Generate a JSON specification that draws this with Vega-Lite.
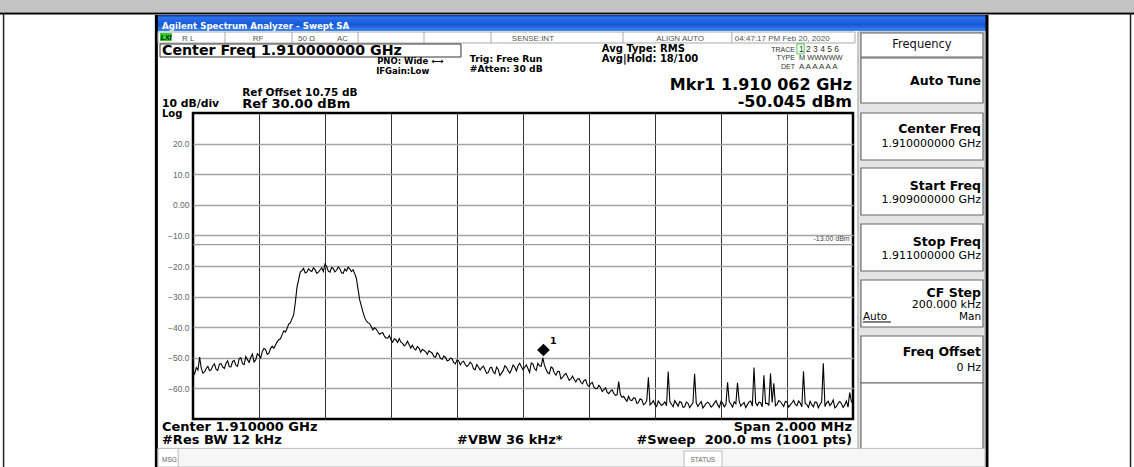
{
"$schema": "https://vega.github.io/schema/vega-lite/v6.json",
"width": 660, "height": 306,
"autosize": {"type": "none"},
"padding": {"left": 193, "top": 113, "right": 281, "bottom": 48},
"background": "white",
"config": {
  "view": {"stroke": "black", "strokeWidth": 2.5},
  "text": {"font": "DejaVu Sans"},
  "axisX": {"grid": true, "gridColor": "#333", "gridWidth": 1, "labels": false, "ticks": false, "domain": false, "title": null, "tickCount": 10},
  "axisY": {"grid": true, "gridColor": "#a3a3a3", "gridWidth": 1.5, "ticks": false, "domain": false, "labelFontSize": 8.5, "labelColor": "#666", "labelPadding": 4, "labelFont": "Liberation Sans", "labelOverlap": false, "title": null, "tickCount": 10}
},
"data": {"values": [
{"f":-1000,"dbm":-54.5},{"f":-990,"dbm":-53.2},{"f":-980,"dbm":-49.8},{"f":-970,"dbm":-55.0},{"f":-960,"dbm":-53.5},{"f":-950,"dbm":-54.2},{"f":-940,"dbm":-52.6},{"f":-930,"dbm":-53.8},{"f":-920,"dbm":-52.1},{"f":-910,"dbm":-53.0},
{"f":-900,"dbm":-51.8},{"f":-890,"dbm":-52.9},{"f":-880,"dbm":-51.2},{"f":-870,"dbm":-52.4},{"f":-860,"dbm":-50.3},{"f":-850,"dbm":-51.9},{"f":-840,"dbm":-49.6},{"f":-830,"dbm":-51.5},{"f":-820,"dbm":-48.8},{"f":-810,"dbm":-50.7},
{"f":-800,"dbm":-49.2},{"f":-790,"dbm":-48.0},{"f":-780,"dbm":-47.3},{"f":-770,"dbm":-48.5},{"f":-760,"dbm":-46.2},{"f":-750,"dbm":-45.8},{"f":-740,"dbm":-44.1},{"f":-730,"dbm":-42.5},{"f":-720,"dbm":-41.6},{"f":-710,"dbm":-39.0},
{"f":-700,"dbm":-37.2},{"f":-690,"dbm":-32.0},{"f":-680,"dbm":-24.5},{"f":-670,"dbm":-21.5},{"f":-660,"dbm":-22.3},{"f":-650,"dbm":-20.9},{"f":-640,"dbm":-21.8},{"f":-630,"dbm":-21.2},{"f":-620,"dbm":-22.0},{"f":-610,"dbm":-20.6},
{"f":-600,"dbm":-19.4},{"f":-590,"dbm":-21.7},{"f":-580,"dbm":-20.5},{"f":-570,"dbm":-21.9},{"f":-560,"dbm":-20.3},{"f":-550,"dbm":-22.2},{"f":-540,"dbm":-21.0},{"f":-530,"dbm":-20.4},{"f":-520,"dbm":-21.8},{"f":-510,"dbm":-22.5},
{"f":-500,"dbm":-27.5},{"f":-490,"dbm":-33.0},{"f":-480,"dbm":-36.8},{"f":-470,"dbm":-38.5},{"f":-460,"dbm":-39.8},{"f":-450,"dbm":-40.2},{"f":-440,"dbm":-41.5},{"f":-430,"dbm":-42.0},{"f":-420,"dbm":-42.9},{"f":-410,"dbm":-43.6},
{"f":-400,"dbm":-44.2},{"f":-390,"dbm":-43.8},{"f":-380,"dbm":-45.0},{"f":-370,"dbm":-44.9},{"f":-360,"dbm":-46.1},{"f":-350,"dbm":-44.6},{"f":-340,"dbm":-46.8},{"f":-330,"dbm":-47.0},{"f":-320,"dbm":-46.3},{"f":-310,"dbm":-48.2},
{"f":-300,"dbm":-47.6},{"f":-290,"dbm":-48.9},{"f":-280,"dbm":-48.1},{"f":-270,"dbm":-49.6},{"f":-260,"dbm":-48.3},{"f":-250,"dbm":-50.2},{"f":-240,"dbm":-49.4},{"f":-230,"dbm":-51.0},{"f":-220,"dbm":-50.1},{"f":-210,"dbm":-51.5},
{"f":-200,"dbm":-50.7},{"f":-190,"dbm":-52.3},{"f":-180,"dbm":-51.1},{"f":-170,"dbm":-52.8},{"f":-160,"dbm":-51.4},{"f":-150,"dbm":-53.6},{"f":-140,"dbm":-52.2},{"f":-130,"dbm":-54.0},{"f":-120,"dbm":-52.7},{"f":-110,"dbm":-55.1},
{"f":-100,"dbm":-53.3},{"f":-90,"dbm":-54.6},{"f":-80,"dbm":-53.0},{"f":-70,"dbm":-55.8},{"f":-60,"dbm":-54.2},{"f":-50,"dbm":-53.1},{"f":-40,"dbm":-55.0},{"f":-30,"dbm":-52.4},{"f":-20,"dbm":-54.3},{"f":-10,"dbm":-51.8},
{"f":0,"dbm":-53.9},{"f":10,"dbm":-52.3},{"f":20,"dbm":-54.8},{"f":30,"dbm":-52.0},{"f":40,"dbm":-54.1},{"f":50,"dbm":-52.6},{"f":60,"dbm":-50.0},{"f":70,"dbm":-53.8},{"f":80,"dbm":-55.2},{"f":90,"dbm":-53.4},
{"f":100,"dbm":-55.7},{"f":110,"dbm":-54.5},{"f":120,"dbm":-56.3},{"f":130,"dbm":-55.1},{"f":140,"dbm":-57.4},{"f":150,"dbm":-56.0},{"f":160,"dbm":-57.9},{"f":170,"dbm":-56.8},{"f":180,"dbm":-58.5},{"f":190,"dbm":-57.2},
{"f":200,"dbm":-59.3},{"f":210,"dbm":-58.0},{"f":220,"dbm":-60.1},{"f":230,"dbm":-59.0},{"f":240,"dbm":-61.0},{"f":250,"dbm":-59.8},{"f":260,"dbm":-61.7},{"f":270,"dbm":-60.5},{"f":280,"dbm":-62.3},{"f":290,"dbm":-57.8},
{"f":300,"dbm":-62.9},{"f":310,"dbm":-63.5},{"f":320,"dbm":-62.6},{"f":330,"dbm":-64.0},{"f":340,"dbm":-63.2},{"f":350,"dbm":-64.6},{"f":360,"dbm":-63.7},{"f":370,"dbm":-65.0},{"f":380,"dbm":-56.4},{"f":390,"dbm":-64.8},
{"f":400,"dbm":-65.3},{"f":410,"dbm":-64.1},{"f":420,"dbm":-65.6},{"f":430,"dbm":-64.4},{"f":440,"dbm":-54.5},{"f":450,"dbm":-65.2},{"f":460,"dbm":-64.0},{"f":470,"dbm":-65.8},{"f":480,"dbm":-64.6},{"f":490,"dbm":-66.0},
{"f":500,"dbm":-64.9},{"f":510,"dbm":-65.5},{"f":520,"dbm":-55.2},{"f":530,"dbm":-65.9},{"f":540,"dbm":-64.3},{"f":550,"dbm":-65.7},{"f":560,"dbm":-64.5},{"f":570,"dbm":-66.1},{"f":580,"dbm":-64.8},{"f":590,"dbm":-65.4},
{"f":600,"dbm":-64.2},{"f":610,"dbm":-66.0},{"f":620,"dbm":-58.0},{"f":630,"dbm":-65.1},{"f":640,"dbm":-64.4},{"f":650,"dbm":-58.2},{"f":660,"dbm":-65.8},{"f":670,"dbm":-64.6},{"f":680,"dbm":-65.3},{"f":690,"dbm":-64.1},
{"f":700,"dbm":-53.2},{"f":710,"dbm":-65.6},{"f":720,"dbm":-64.7},{"f":730,"dbm":-55.7},{"f":740,"dbm":-64.9},{"f":750,"dbm":-55.1},{"f":760,"dbm":-58.3},{"f":770,"dbm":-65.2},{"f":780,"dbm":-64.3},{"f":790,"dbm":-65.9},
{"f":800,"dbm":-64.5},{"f":810,"dbm":-65.4},{"f":820,"dbm":-63.9},{"f":830,"dbm":-65.7},{"f":840,"dbm":-64.8},{"f":850,"dbm":-54.4},{"f":860,"dbm":-65.3},{"f":870,"dbm":-64.2},{"f":880,"dbm":-66.0},{"f":890,"dbm":-64.6},
{"f":900,"dbm":-65.2},{"f":910,"dbm":-51.8},{"f":920,"dbm":-64.7},{"f":930,"dbm":-65.6},{"f":940,"dbm":-63.8},{"f":950,"dbm":-65.9},{"f":960,"dbm":-64.3},{"f":970,"dbm":-66.2},{"f":980,"dbm":-64.1},{"f":990,"dbm":-61.4},
{"f":1000,"dbm":-65.0},
{"f":-995,"dbm":-55.3},{"f":-985,"dbm":-54.0},{"f":-975,"dbm":-53.4},{"f":-965,"dbm":-54.6},{"f":-955,"dbm":-52.8},{"f":-945,"dbm":-53.9},{"f":-935,"dbm":-52.0},{"f":-925,"dbm":-54.1},{"f":-915,"dbm":-51.9},{"f":-905,"dbm":-53.5},
{"f":-895,"dbm":-51.0},{"f":-885,"dbm":-53.0},{"f":-875,"dbm":-50.9},{"f":-865,"dbm":-52.8},{"f":-855,"dbm":-50.0},{"f":-845,"dbm":-52.2},{"f":-835,"dbm":-50.6},{"f":-825,"dbm":-49.9},{"f":-815,"dbm":-51.4},{"f":-805,"dbm":-48.7},
{"f":-795,"dbm":-50.1},{"f":-785,"dbm":-46.9},{"f":-775,"dbm":-48.9},{"f":-765,"dbm":-47.0},{"f":-755,"dbm":-46.9},{"f":-745,"dbm":-44.8},{"f":-735,"dbm":-43.8},{"f":-725,"dbm":-41.2},{"f":-715,"dbm":-40.4},{"f":-705,"dbm":-38.6},
{"f":-695,"dbm":-36.0},{"f":-685,"dbm":-27.0},{"f":-675,"dbm":-22.0},{"f":-665,"dbm":-20.8},{"f":-655,"dbm":-22.0},{"f":-645,"dbm":-21.5},{"f":-635,"dbm":-20.6},{"f":-625,"dbm":-22.4},{"f":-615,"dbm":-21.3},{"f":-605,"dbm":-21.8},
{"f":-595,"dbm":-20.2},{"f":-585,"dbm":-22.0},{"f":-575,"dbm":-20.8},{"f":-565,"dbm":-21.4},{"f":-555,"dbm":-20.9},{"f":-545,"dbm":-22.4},{"f":-535,"dbm":-21.6},{"f":-525,"dbm":-20.9},{"f":-515,"dbm":-21.2},{"f":-505,"dbm":-24.0},
{"f":-495,"dbm":-31.0},{"f":-485,"dbm":-35.0},{"f":-475,"dbm":-37.9},{"f":-465,"dbm":-38.8},{"f":-455,"dbm":-40.9},{"f":-445,"dbm":-40.6},{"f":-435,"dbm":-42.3},{"f":-425,"dbm":-41.8},{"f":-415,"dbm":-43.5},{"f":-405,"dbm":-42.7},
{"f":-395,"dbm":-44.9},{"f":-385,"dbm":-44.1},{"f":-375,"dbm":-43.7},{"f":-365,"dbm":-45.3},{"f":-355,"dbm":-45.6},{"f":-345,"dbm":-45.7},{"f":-335,"dbm":-45.9},{"f":-325,"dbm":-47.4},{"f":-315,"dbm":-46.9},{"f":-305,"dbm":-47.2},
{"f":-295,"dbm":-48.0},{"f":-285,"dbm":-47.7},{"f":-275,"dbm":-48.5},{"f":-265,"dbm":-49.8},{"f":-255,"dbm":-48.9},{"f":-245,"dbm":-50.5},{"f":-235,"dbm":-49.8},{"f":-225,"dbm":-50.8},{"f":-215,"dbm":-50.3},{"f":-205,"dbm":-52.0},
{"f":-195,"dbm":-51.0},{"f":-185,"dbm":-51.4},{"f":-175,"dbm":-52.2},{"f":-165,"dbm":-52.3},{"f":-155,"dbm":-52.0},{"f":-145,"dbm":-53.9},{"f":-135,"dbm":-53.0},{"f":-125,"dbm":-53.2},{"f":-115,"dbm":-53.9},{"f":-105,"dbm":-54.8},
{"f":-95,"dbm":-53.1},{"f":-85,"dbm":-55.2},{"f":-75,"dbm":-53.8},{"f":-65,"dbm":-55.0},{"f":-55,"dbm":-52.6},{"f":-45,"dbm":-54.2},{"f":-35,"dbm":-53.9},{"f":-25,"dbm":-53.0},{"f":-15,"dbm":-52.6},{"f":-5,"dbm":-52.9},
{"f":5,"dbm":-53.1},{"f":15,"dbm":-53.5},{"f":25,"dbm":-51.7},{"f":35,"dbm":-53.6},{"f":45,"dbm":-51.8},{"f":55,"dbm":-52.8},{"f":65,"dbm":-52.5},{"f":75,"dbm":-54.9},{"f":85,"dbm":-53.0},{"f":95,"dbm":-55.0},
{"f":105,"dbm":-54.4},{"f":115,"dbm":-56.9},{"f":125,"dbm":-55.6},{"f":135,"dbm":-56.2},{"f":145,"dbm":-56.9},{"f":155,"dbm":-57.0},{"f":165,"dbm":-56.9},{"f":175,"dbm":-58.0},{"f":185,"dbm":-57.4},{"f":195,"dbm":-58.9},
{"f":205,"dbm":-58.4},{"f":215,"dbm":-59.6},{"f":225,"dbm":-60.0},{"f":235,"dbm":-59.7},{"f":245,"dbm":-60.4},{"f":255,"dbm":-61.2},{"f":265,"dbm":-60.9},{"f":275,"dbm":-61.6},{"f":285,"dbm":-62.1},{"f":295,"dbm":-62.0},
{"f":305,"dbm":-62.6},{"f":315,"dbm":-64.2},{"f":325,"dbm":-63.8},{"f":335,"dbm":-63.1},{"f":345,"dbm":-64.9},{"f":355,"dbm":-63.4},{"f":365,"dbm":-65.3},{"f":375,"dbm":-64.0},{"f":385,"dbm":-65.4},{"f":395,"dbm":-64.0},
{"f":405,"dbm":-65.9},{"f":415,"dbm":-64.9},{"f":425,"dbm":-65.1},{"f":435,"dbm":-65.7},{"f":445,"dbm":-64.3},{"f":455,"dbm":-66.0},{"f":465,"dbm":-64.9},{"f":475,"dbm":-64.3},{"f":485,"dbm":-66.2},{"f":495,"dbm":-64.5},
{"f":505,"dbm":-66.3},{"f":515,"dbm":-64.7},{"f":525,"dbm":-64.8},{"f":535,"dbm":-65.0},{"f":545,"dbm":-66.4},{"f":555,"dbm":-64.9},{"f":565,"dbm":-65.1},{"f":575,"dbm":-65.6},{"f":585,"dbm":-64.0},{"f":595,"dbm":-66.2},
{"f":605,"dbm":-64.8},{"f":615,"dbm":-65.2},{"f":625,"dbm":-64.4},{"f":635,"dbm":-66.1},{"f":645,"dbm":-65.0},{"f":655,"dbm":-64.2},{"f":665,"dbm":-65.1},{"f":675,"dbm":-66.3},{"f":685,"dbm":-64.4},{"f":695,"dbm":-65.8},
{"f":705,"dbm":-64.7},{"f":715,"dbm":-64.5},{"f":725,"dbm":-66.0},{"f":735,"dbm":-64.9},{"f":745,"dbm":-65.5},{"f":755,"dbm":-64.6},{"f":765,"dbm":-65.7},{"f":775,"dbm":-64.0},{"f":785,"dbm":-65.1},{"f":795,"dbm":-64.2},
{"f":805,"dbm":-66.1},{"f":815,"dbm":-64.7},{"f":825,"dbm":-65.2},{"f":835,"dbm":-64.1},{"f":845,"dbm":-66.0},{"f":855,"dbm":-64.9},{"f":865,"dbm":-66.2},{"f":875,"dbm":-65.3},{"f":885,"dbm":-64.4},{"f":895,"dbm":-66.3},
{"f":905,"dbm":-64.5},{"f":915,"dbm":-65.9},{"f":925,"dbm":-64.2},{"f":935,"dbm":-64.9},{"f":945,"dbm":-66.4},{"f":955,"dbm":-64.8},{"f":965,"dbm":-65.0},{"f":975,"dbm":-65.4},{"f":985,"dbm":-66.1},{"f":995,"dbm":-64.2}
]},
"layer": [
{"mark": {"type": "line", "color": "black", "strokeWidth": 1.1, "clip": false},
 "encoding": {"x": {"field": "f", "type": "quantitative", "scale": {"domain": [-1000, 1000], "nice": false, "zero": false},
                    "axis": {"values": [-800,-600,-400,-200,0,200,400,600,800]}},
              "y": {"field": "dbm", "type": "quantitative", "scale": {"domain": [-70, 30], "nice": false, "zero": false},
                    "axis": {"values": [-60,-50,-40,-30,-20,-10,0,10,20], "labelOverlap": false, "labelExpr": "datum.value == 0 ? '0.00' : format(datum.value, '.1f')"}}}},
{"data": {"values": [{}]}, "mark": {"type": "rect", "fill": "#c3c3c3", "clip": false}, "encoding": {"x": {"datum": -1585}, "x2": {"datum": 1852}, "y": {"datum": 66.93}, "y2": {"datum": 62.9}}},
{"data": {"values": [{}]}, "mark": {"type": "rule", "color": "black", "strokeWidth": 2, "clip": false}, "encoding": {"x": {"datum": -1585}, "x2": {"datum": 1852}, "y": {"datum": 62.55}}},
{"data": {"values": [{}]}, "mark": {"type": "rule", "color": "#222", "strokeWidth": 1.5, "clip": false}, "encoding": {"x": {"datum": -1574}, "y": {"datum": 62.6}, "y2": {"datum": -85.7}}},
{"data": {"values": [{}]}, "mark": {"type": "rule", "color": "#222", "strokeWidth": 1.5, "clip": false}, "encoding": {"x": {"datum": 1841}, "y": {"datum": 62.6}, "y2": {"datum": -85.7}}},
{"data": {"values": [{}]}, "mark": {"type": "rect", "clip": false, "fill": {"gradient": "linear", "x1": 0, "y1": 0, "x2": 0, "y2": 1, "stops": [{"offset": 0, "color": "#0b2f8a"}, {"offset": 0.15, "color": "#2a74ee"}, {"offset": 0.6, "color": "#1657d6"}, {"offset": 1, "color": "#3d86f2"}]}},
 "encoding": {"x": {"datum": -1109}, "x2": {"datum": 1406}, "y": {"datum": 62.03}, "y2": {"datum": 56.8}}},
{"data": {"values": [{}]}, "mark": {"type": "rule", "color": "black", "strokeWidth": 3, "clip": false}, "encoding": {"x": {"datum": -1111}, "y": {"datum": 62.03}, "y2": {"datum": -85.7}}},
{"data": {"values": [{}]}, "mark": {"type": "rule", "color": "black", "strokeWidth": 3, "clip": false}, "encoding": {"x": {"datum": 1406}, "y": {"datum": 62.03}, "y2": {"datum": -85.7}}},
{"data": {"values": [{}]}, "mark": {"type": "rect", "fill": "white", "stroke": "#aaa", "strokeWidth": 1, "clip": false}, "encoding": {"x": {"datum": -1106}, "x2": {"datum": 1006}, "y": {"datum": 56.47}, "y2": {"datum": 52.88}}},
{"data": {"values": [{}]}, "mark": {"type": "rule", "color": "#aaa", "clip": false}, "encoding": {"x": {"datum": -903}, "y": {"datum": 56.47}, "y2": {"datum": 52.88}}},
{"data": {"values": [{}]}, "mark": {"type": "rule", "color": "#aaa", "clip": false}, "encoding": {"x": {"datum": -700}, "y": {"datum": 56.47}, "y2": {"datum": 52.88}}},
{"data": {"values": [{}]}, "mark": {"type": "rule", "color": "#aaa", "clip": false}, "encoding": {"x": {"datum": -500}, "y": {"datum": 56.47}, "y2": {"datum": 52.88}}},
{"data": {"values": [{}]}, "mark": {"type": "rule", "color": "#aaa", "clip": false}, "encoding": {"x": {"datum": -300}, "y": {"datum": 56.47}, "y2": {"datum": 52.88}}},
{"data": {"values": [{}]}, "mark": {"type": "rule", "color": "#aaa", "clip": false}, "encoding": {"x": {"datum": -97}, "y": {"datum": 56.47}, "y2": {"datum": 52.88}}},
{"data": {"values": [{}]}, "mark": {"type": "rule", "color": "#aaa", "clip": false}, "encoding": {"x": {"datum": 303}, "y": {"datum": 56.47}, "y2": {"datum": 52.88}}},
{"data": {"values": [{}]}, "mark": {"type": "rule", "color": "#aaa", "clip": false}, "encoding": {"x": {"datum": 633}, "y": {"datum": 56.47}, "y2": {"datum": 52.88}}},
{"data": {"values": [{}]}, "mark": {"type": "rect", "fill": "#2fcf2f", "clip": false}, "encoding": {"x": {"datum": -1100}, "x2": {"datum": -1064}, "y": {"datum": 56.14}, "y2": {"datum": 53.53}}},
{"data": {"values": [{}]}, "mark": {"type": "rect", "fill": "white", "stroke": "#333", "strokeWidth": 1, "clip": false}, "encoding": {"x": {"datum": -1100}, "x2": {"datum": -188}, "y": {"datum": 52.55}, "y2": {"datum": 48.3}}},
{"data": {"values": [{}]}, "mark": {"type": "rect", "fill": "white", "stroke": "#4c4", "strokeWidth": 1, "clip": false}, "encoding": {"x": {"datum": 830}, "x2": {"datum": 852}, "y": {"datum": 52.6}, "y2": {"datum": 49.3}}},
{"data": {"values": [{}]}, "mark": {"type": "rect", "fill": "#e4e4e4", "stroke": "#999", "strokeWidth": 1, "clip": false}, "encoding": {"x": {"datum": 1015}, "x2": {"datum": 1400}, "y": {"datum": 56.47}, "y2": {"datum": -80.78}}},
{"data": {"values": [{}]}, "mark": {"type": "rect", "fill": "white", "stroke": "#666", "strokeWidth": 1.2, "clip": false}, "encoding": {"x": {"datum": 1024}, "x2": {"datum": 1394}, "y": {"datum": 56.14}, "y2": {"datum": 48.3}}},
{"data": {"values": [{}]}, "mark": {"type": "rect", "fill": "white", "stroke": "#666", "strokeWidth": 1.2, "clip": false}, "encoding": {"x": {"datum": 1024}, "x2": {"datum": 1394}, "y": {"datum": 47.97}, "y2": {"datum": 33.27}}},
{"data": {"values": [{}]}, "mark": {"type": "rect", "fill": "white", "stroke": "#666", "strokeWidth": 1.2, "clip": false}, "encoding": {"x": {"datum": 1024}, "x2": {"datum": 1394}, "y": {"datum": 30}, "y2": {"datum": 14.64}}},
{"data": {"values": [{}]}, "mark": {"type": "rect", "fill": "white", "stroke": "#666", "strokeWidth": 1.2, "clip": false}, "encoding": {"x": {"datum": 1024}, "x2": {"datum": 1394}, "y": {"datum": 12.03}, "y2": {"datum": -3.33}}},
{"data": {"values": [{}]}, "mark": {"type": "rect", "fill": "white", "stroke": "#666", "strokeWidth": 1.2, "clip": false}, "encoding": {"x": {"datum": 1024}, "x2": {"datum": 1394}, "y": {"datum": -6.27}, "y2": {"datum": -21.63}}},
{"data": {"values": [{}]}, "mark": {"type": "rect", "fill": "white", "stroke": "#666", "strokeWidth": 1.2, "clip": false}, "encoding": {"x": {"datum": 1024}, "x2": {"datum": 1394}, "y": {"datum": -24.58}, "y2": {"datum": -39.93}}},
{"data": {"values": [{}]}, "mark": {"type": "rect", "fill": "white", "stroke": "#666", "strokeWidth": 1.2, "clip": false}, "encoding": {"x": {"datum": 1024}, "x2": {"datum": 1394}, "y": {"datum": -42.88}, "y2": {"datum": -58.24}}},
{"data": {"values": [{}]}, "mark": {"type": "rect", "fill": "white", "stroke": "#666", "strokeWidth": 1.2, "clip": false}, "encoding": {"x": {"datum": 1024}, "x2": {"datum": 1394}, "y": {"datum": -58.24}, "y2": {"datum": -80.13}}},
{"data": {"values": [{}]}, "mark": {"type": "rect", "fill": "#f6f6f6", "stroke": "#bbb", "strokeWidth": 1, "clip": false}, "encoding": {"x": {"datum": -1106}, "x2": {"datum": 1400}, "y": {"datum": -79.6}, "y2": {"datum": -85.7}}},
{"data": {"values": [{}]}, "mark": {"type": "rect", "fill": "white", "stroke": "#bbb", "strokeWidth": 1, "clip": false}, "encoding": {"x": {"datum": -1106}, "x2": {"datum": -1045}, "y": {"datum": -79.6}, "y2": {"datum": -85.7}}},
{"data": {"values": [{}]}, "mark": {"type": "rect", "fill": "white", "stroke": "#bbb", "strokeWidth": 1, "clip": false}, "encoding": {"x": {"datum": 488}, "x2": {"datum": 603}, "y": {"datum": -80.46}, "y2": {"datum": -85.7}}},
{"data": {"values": [{}]}, "mark": {"type": "rule", "color": "#9a9a9a", "strokeWidth": 1.2, "clip": false}, "encoding": {"y": {"datum": -13}}},
{"data": {"values": [{}]}, "mark": {"type": "point", "shape": "diamond", "filled": true, "color": "black", "opacity": 1, "size": 160, "clip": false}, "encoding": {"x": {"datum": 62}, "y": {"datum": -47.45}}},
{"data": {"values": [{}]}, "mark": {"type": "text", "text": "-13.00 dBm", "align": "right", "baseline": "alphabetic", "fontSize": 7, "font": "Liberation Sans", "color": "#444"}, "encoding": {"x": {"datum": 990}, "y": {"datum": -11.7}}},
{"data": {"values": [{}]}, "mark": {"type": "text", "text": "1", "align": "left", "baseline": "alphabetic", "fontSize": 9.5, "fontWeight": "bold", "color": "black"}, "encoding": {"x": {"datum": 82}, "y": {"datum": -45.6}}},
{"data": {"values": [{}]}, "mark": {"type": "text", "text": "Agilent Spectrum Analyzer - Swept SA", "align": "left", "baseline": "alphabetic", "fontSize": 8.7, "fontWeight": "bold", "color": "white"}, "encoding": {"x": {"datum": -1094}, "y": {"datum": 57.6}}},
{"data": {"values": [{}]}, "mark": {"type": "text", "text": "LXI", "align": "left", "baseline": "alphabetic", "fontSize": 7, "fontWeight": "bold", "fontStyle": "italic", "font": "Liberation Sans", "color": "#111"}, "encoding": {"x": {"datum": -1098}, "y": {"datum": 53.8}}},
{"data": {"values": [{}]}, "mark": {"type": "text", "text": "R L", "align": "left", "baseline": "alphabetic", "fontSize": 8, "font": "Liberation Sans", "color": "#555"}, "encoding": {"x": {"datum": -1033}, "y": {"datum": 53.6}}},
{"data": {"values": [{}]}, "mark": {"type": "text", "text": "RF", "align": "center", "baseline": "alphabetic", "fontSize": 8, "font": "Liberation Sans", "color": "#555"}, "encoding": {"x": {"datum": -803}, "y": {"datum": 53.6}}},
{"data": {"values": [{}]}, "mark": {"type": "text", "text": "50 Ω", "align": "left", "baseline": "alphabetic", "fontSize": 8, "font": "Liberation Sans", "color": "#555"}, "encoding": {"x": {"datum": -682}, "y": {"datum": 53.6}}},
{"data": {"values": [{}]}, "mark": {"type": "text", "text": "AC", "align": "left", "baseline": "alphabetic", "fontSize": 8, "font": "Liberation Sans", "color": "#555"}, "encoding": {"x": {"datum": -564}, "y": {"datum": 53.6}}},
{"data": {"values": [{}]}, "mark": {"type": "text", "text": "SENSE:INT", "align": "center", "baseline": "alphabetic", "fontSize": 8, "font": "Liberation Sans", "color": "#555"}, "encoding": {"x": {"datum": 30}, "y": {"datum": 53.6}}},
{"data": {"values": [{}]}, "mark": {"type": "text", "text": "ALIGN AUTO", "align": "center", "baseline": "alphabetic", "fontSize": 8, "font": "Liberation Sans", "color": "#555"}, "encoding": {"x": {"datum": 476}, "y": {"datum": 53.6}}},
{"data": {"values": [{}]}, "mark": {"type": "text", "text": "04:47:17 PM Feb 20, 2020", "align": "left", "baseline": "alphabetic", "fontSize": 8, "font": "Liberation Sans", "color": "#555"}, "encoding": {"x": {"datum": 642}, "y": {"datum": 53.6}}},
{"data": {"values": [{}]}, "mark": {"type": "text", "text": "Center Freq 1.910000000 GHz", "align": "left", "baseline": "alphabetic", "fontSize": 14.2, "fontWeight": "bold", "color": "black"}, "encoding": {"x": {"datum": -1094}, "y": {"datum": 49.1}}},
{"data": {"values": [{}]}, "mark": {"type": "text", "text": "PNO: Wide ⟷", "align": "left", "baseline": "alphabetic", "fontSize": 8.5, "fontWeight": "bold", "color": "black"}, "encoding": {"x": {"datum": -442}, "y": {"datum": 45.9}}},
{"data": {"values": [{}]}, "mark": {"type": "text", "text": "IFGain:Low", "align": "left", "baseline": "alphabetic", "fontSize": 8.5, "fontWeight": "bold", "color": "black"}, "encoding": {"x": {"datum": -445}, "y": {"datum": 42.8}}},
{"data": {"values": [{}]}, "mark": {"type": "text", "text": "Trig: Free Run", "align": "left", "baseline": "alphabetic", "fontSize": 9.2, "fontWeight": "bold", "color": "black"}, "encoding": {"x": {"datum": -161}, "y": {"datum": 46.67}}},
{"data": {"values": [{}]}, "mark": {"type": "text", "text": "#Atten: 30 dB", "align": "left", "baseline": "alphabetic", "fontSize": 9.2, "fontWeight": "bold", "color": "black"}, "encoding": {"x": {"datum": -161}, "y": {"datum": 43.4}}},
{"data": {"values": [{}]}, "mark": {"type": "text", "text": "Avg Type: RMS", "align": "left", "baseline": "alphabetic", "fontSize": 10, "fontWeight": "bold", "color": "black"}, "encoding": {"x": {"datum": 239}, "y": {"datum": 49.93}}},
{"data": {"values": [{}]}, "mark": {"type": "text", "text": "Avg|Hold: 18/100", "align": "left", "baseline": "alphabetic", "fontSize": 10, "fontWeight": "bold", "color": "black"}, "encoding": {"x": {"datum": 239}, "y": {"datum": 46.67}}},
{"data": {"values": [{}]}, "mark": {"type": "text", "text": "TRACE", "align": "right", "baseline": "alphabetic", "fontSize": 7, "font": "Liberation Sans", "color": "#333"}, "encoding": {"x": {"datum": 824}, "y": {"datum": 49.93}}},
{"data": {"values": [{}]}, "mark": {"type": "text", "text": "1 2 3 4 5 6", "align": "left", "baseline": "alphabetic", "fontSize": 8.5, "font": "Liberation Sans", "color": "#333"}, "encoding": {"x": {"datum": 836}, "y": {"datum": 49.93}}},
{"data": {"values": [{}]}, "mark": {"type": "text", "text": "TYPE", "align": "right", "baseline": "alphabetic", "fontSize": 7, "font": "Liberation Sans", "color": "#333"}, "encoding": {"x": {"datum": 824}, "y": {"datum": 47.3}}},
{"data": {"values": [{}]}, "mark": {"type": "text", "text": "M WWWWW", "align": "left", "baseline": "alphabetic", "fontSize": 7.5, "font": "Liberation Sans", "color": "#333"}, "encoding": {"x": {"datum": 836}, "y": {"datum": 47.3}}},
{"data": {"values": [{}]}, "mark": {"type": "text", "text": "DET", "align": "right", "baseline": "alphabetic", "fontSize": 7, "font": "Liberation Sans", "color": "#333"}, "encoding": {"x": {"datum": 824}, "y": {"datum": 44.4}}},
{"data": {"values": [{}]}, "mark": {"type": "text", "text": "A A A A A A", "align": "left", "baseline": "alphabetic", "fontSize": 8, "font": "Liberation Sans", "color": "#333"}, "encoding": {"x": {"datum": 836}, "y": {"datum": 44.4}}},
{"data": {"values": [{}]}, "mark": {"type": "text", "text": "Mkr1 1.910 062 GHz", "align": "right", "baseline": "alphabetic", "fontSize": 16, "fontWeight": "bold", "color": "black"}, "encoding": {"x": {"datum": 997}, "y": {"datum": 37.4}}},
{"data": {"values": [{}]}, "mark": {"type": "text", "text": "-50.045 dBm", "align": "right", "baseline": "alphabetic", "fontSize": 16, "fontWeight": "bold", "color": "black"}, "encoding": {"x": {"datum": 997}, "y": {"datum": 31.9}}},
{"data": {"values": [{}]}, "mark": {"type": "text", "text": "Ref Offset 10.75 dB", "align": "left", "baseline": "alphabetic", "fontSize": 10.5, "fontWeight": "bold", "color": "black"}, "encoding": {"x": {"datum": -851}, "y": {"datum": 35.6}}},
{"data": {"values": [{}]}, "mark": {"type": "text", "text": "10 dB/div", "align": "left", "baseline": "alphabetic", "fontSize": 10.8, "fontWeight": "bold", "color": "black"}, "encoding": {"x": {"datum": -1094}, "y": {"datum": 31.8}}},
{"data": {"values": [{}]}, "mark": {"type": "text", "text": "Ref 30.00 dBm", "align": "left", "baseline": "alphabetic", "fontSize": 13.1, "fontWeight": "bold", "color": "black"}, "encoding": {"x": {"datum": -851}, "y": {"datum": 31.63}}},
{"data": {"values": [{}]}, "mark": {"type": "text", "text": "Log", "align": "left", "baseline": "alphabetic", "fontSize": 10, "fontWeight": "bold", "color": "black"}, "encoding": {"x": {"datum": -1094}, "y": {"datum": 28.6}}},
{"data": {"values": [{}]}, "mark": {"type": "text", "text": "Center 1.910000 GHz", "align": "left", "baseline": "alphabetic", "fontSize": 13, "fontWeight": "bold", "color": "black"}, "encoding": {"x": {"datum": -1094}, "y": {"datum": -73.92}}},
{"data": {"values": [{}]}, "mark": {"type": "text", "text": "#Res BW 12 kHz", "align": "left", "baseline": "alphabetic", "fontSize": 13, "fontWeight": "bold", "color": "black"}, "encoding": {"x": {"datum": -1094}, "y": {"datum": -78.17}}},
{"data": {"values": [{}]}, "mark": {"type": "text", "text": "#VBW 36 kHz*", "align": "left", "baseline": "alphabetic", "fontSize": 13, "fontWeight": "bold", "color": "black"}, "encoding": {"x": {"datum": -200}, "y": {"datum": -78.17}}},
{"data": {"values": [{}]}, "mark": {"type": "text", "text": "Span 2.000 MHz", "align": "right", "baseline": "alphabetic", "fontSize": 13, "fontWeight": "bold", "color": "black"}, "encoding": {"x": {"datum": 997}, "y": {"datum": -73.92}}},
{"data": {"values": [{}]}, "mark": {"type": "text", "text": "#Sweep\u00a0 200.0 ms (1001 pts)", "align": "right", "baseline": "alphabetic", "fontSize": 13, "fontWeight": "bold", "color": "black"}, "encoding": {"x": {"datum": 997}, "y": {"datum": -78.17}}},
{"data": {"values": [{}]}, "mark": {"type": "text", "text": "MSG", "align": "left", "baseline": "alphabetic", "fontSize": 6.5, "font": "Liberation Sans", "color": "#666"}, "encoding": {"x": {"datum": -1094}, "y": {"datum": -84.1}}},
{"data": {"values": [{}]}, "mark": {"type": "text", "text": "STATUS", "align": "center", "baseline": "alphabetic", "fontSize": 6.5, "font": "Liberation Sans", "color": "#666"}, "encoding": {"x": {"datum": 545}, "y": {"datum": -84.1}}},
{"data": {"values": [{}]}, "mark": {"type": "text", "text": "Frequency", "align": "center", "baseline": "alphabetic", "fontSize": 11.5, "color": "#111"}, "encoding": {"x": {"datum": 1209}, "y": {"datum": 51.24}}},
{"data": {"values": [{}]}, "mark": {"type": "text", "text": "Auto Tune", "align": "right", "baseline": "alphabetic", "fontSize": 12.5, "fontWeight": "bold", "color": "black"}, "encoding": {"x": {"datum": 1388}, "y": {"datum": 39.15}}},
{"data": {"values": [{}]}, "mark": {"type": "text", "text": "Center Freq", "align": "right", "baseline": "alphabetic", "fontSize": 12.5, "fontWeight": "bold", "color": "black"}, "encoding": {"x": {"datum": 1388}, "y": {"datum": 23.46}}},
{"data": {"values": [{}]}, "mark": {"type": "text", "text": "1.910000000 GHz", "align": "right", "baseline": "alphabetic", "fontSize": 11, "color": "black"}, "encoding": {"x": {"datum": 1388}, "y": {"datum": 18.9}}},
{"data": {"values": [{}]}, "mark": {"type": "text", "text": "Start Freq", "align": "right", "baseline": "alphabetic", "fontSize": 12.5, "fontWeight": "bold", "color": "black"}, "encoding": {"x": {"datum": 1388}, "y": {"datum": 4.84}}},
{"data": {"values": [{}]}, "mark": {"type": "text", "text": "1.909000000 GHz", "align": "right", "baseline": "alphabetic", "fontSize": 11, "color": "black"}, "encoding": {"x": {"datum": 1388}, "y": {"datum": 0.6}}},
{"data": {"values": [{}]}, "mark": {"type": "text", "text": "Stop Freq", "align": "right", "baseline": "alphabetic", "fontSize": 12.5, "fontWeight": "bold", "color": "black"}, "encoding": {"x": {"datum": 1388}, "y": {"datum": -13.46}}},
{"data": {"values": [{}]}, "mark": {"type": "text", "text": "1.911000000 GHz", "align": "right", "baseline": "alphabetic", "fontSize": 11, "color": "black"}, "encoding": {"x": {"datum": 1388}, "y": {"datum": -17.7}}},
{"data": {"values": [{}]}, "mark": {"type": "text", "text": "CF Step", "align": "right", "baseline": "alphabetic", "fontSize": 12.5, "fontWeight": "bold", "color": "black"}, "encoding": {"x": {"datum": 1388}, "y": {"datum": -30.13}}},
{"data": {"values": [{}]}, "mark": {"type": "text", "text": "200.000 kHz", "align": "right", "baseline": "alphabetic", "fontSize": 11, "color": "black"}, "encoding": {"x": {"datum": 1388}, "y": {"datum": -33.73}}},
{"data": {"values": [{}]}, "mark": {"type": "text", "text": "Auto", "align": "left", "baseline": "alphabetic", "fontSize": 10.5, "color": "black"}, "encoding": {"x": {"datum": 1030}, "y": {"datum": -37.65}}},
{"data": {"values": [{}]}, "mark": {"type": "rule", "color": "black", "strokeWidth": 1, "clip": false}, "encoding": {"x": {"datum": 1030}, "x2": {"datum": 1115}, "y": {"datum": -38.3}}},
{"data": {"values": [{}]}, "mark": {"type": "text", "text": "Man", "align": "right", "baseline": "alphabetic", "fontSize": 10.5, "color": "black"}, "encoding": {"x": {"datum": 1388}, "y": {"datum": -37.65}}},
{"data": {"values": [{}]}, "mark": {"type": "text", "text": "Freq Offset", "align": "right", "baseline": "alphabetic", "fontSize": 12.5, "fontWeight": "bold", "color": "black"}, "encoding": {"x": {"datum": 1388}, "y": {"datum": -49.41}}},
{"data": {"values": [{}]}, "mark": {"type": "text", "text": "0 Hz", "align": "right", "baseline": "alphabetic", "fontSize": 11, "color": "black"}, "encoding": {"x": {"datum": 1388}, "y": {"datum": -54.31}}}
]
}
